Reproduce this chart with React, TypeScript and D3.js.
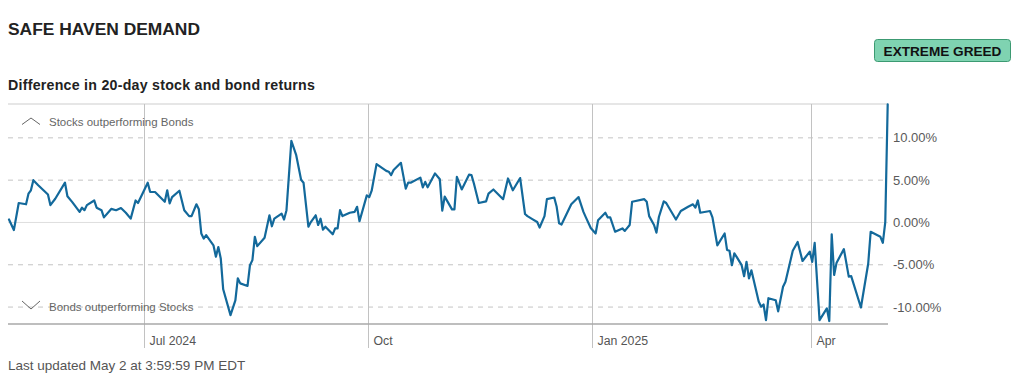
import React from "react";
import * as d3 from "d3";

const dates: string[] = [
  "2024-05-06","2024-05-08","2024-05-10","2024-05-13","2024-05-14","2024-05-15","2024-05-16","2024-05-18",
  "2024-05-22","2024-05-23","2024-05-25","2024-05-29","2024-05-30","2024-06-01","2024-06-04","2024-06-05",
  "2024-06-06","2024-06-07","2024-06-10","2024-06-11","2024-06-13","2024-06-14","2024-06-17","2024-06-19",
  "2024-06-21","2024-06-23","2024-06-25","2024-06-27","2024-06-28","2024-07-02","2024-07-03","2024-07-05",
  "2024-07-09","2024-07-10","2024-07-11","2024-07-12","2024-07-15","2024-07-17","2024-07-19","2024-07-20",
  "2024-07-22","2024-07-23","2024-07-24","2024-07-25","2024-07-26","2024-07-29","2024-07-30","2024-07-31",
  "2024-08-01","2024-08-02","2024-08-05","2024-08-07","2024-08-08","2024-08-09","2024-08-12","2024-08-13",
  "2024-08-14","2024-08-15","2024-08-16","2024-08-19","2024-08-21","2024-08-22","2024-08-23","2024-08-26",
  "2024-08-27","2024-08-28","2024-08-30","2024-09-01","2024-09-03","2024-09-04","2024-09-06","2024-09-07",
  "2024-09-09","2024-09-10","2024-09-11","2024-09-12","2024-09-13","2024-09-16","2024-09-17","2024-09-18",
  "2024-09-19","2024-09-20","2024-09-23","2024-09-25","2024-09-26","2024-09-27","2024-09-30","2024-10-01",
  "2024-10-02","2024-10-04","2024-10-08","2024-10-09","2024-10-10","2024-10-11","2024-10-14","2024-10-16",
  "2024-10-17","2024-10-18","2024-10-22","2024-10-23","2024-10-24","2024-10-25","2024-10-28","2024-10-30",
  "2024-10-31","2024-11-01","2024-11-04","2024-11-05","2024-11-06","2024-11-08","2024-11-11","2024-11-12",
  "2024-11-13","2024-11-15","2024-11-18","2024-11-19","2024-11-21","2024-11-25","2024-11-27","2024-11-29",
  "2024-12-02","2024-12-04","2024-12-05","2024-12-07","2024-12-09","2024-12-10","2024-12-12","2024-12-13",
  "2024-12-16","2024-12-17","2024-12-18","2024-12-19","2024-12-23","2024-12-26","2024-12-28","2024-12-29",
  "2024-12-31","2025-01-02","2025-01-03","2025-01-06","2025-01-07","2025-01-08","2025-01-10","2025-01-13",
  "2025-01-14","2025-01-16","2025-01-17","2025-01-22","2025-01-23","2025-01-24","2025-01-26","2025-01-27",
  "2025-01-28","2025-01-30","2025-01-31","2025-02-04","2025-02-06","2025-02-09","2025-02-11","2025-02-12",
  "2025-02-13","2025-02-14","2025-02-18","2025-02-19","2025-02-21","2025-02-24","2025-02-25","2025-02-26",
  "2025-02-27","2025-02-28","2025-03-01","2025-03-03","2025-03-04","2025-03-05","2025-03-06","2025-03-07",
  "2025-03-10","2025-03-11","2025-03-12","2025-03-13","2025-03-14","2025-03-17","2025-03-18","2025-03-20",
  "2025-03-21","2025-03-24","2025-03-26","2025-03-28","2025-03-31","2025-04-01","2025-04-02","2025-04-04",
  "2025-04-07","2025-04-08","2025-04-09","2025-04-10","2025-04-11","2025-04-14","2025-04-16","2025-04-17",
  "2025-04-21","2025-04-24","2025-04-25","2025-04-29","2025-04-30","2025-05-01","2025-05-02",
];

const values: number[] = [
  0.35,-0.9,2.3,2.15,3.4,3.8,5.0,4.4,
  3.3,2.05,2.8,4.7,3.1,2.4,1.25,1.75,
  1.45,2.05,2.6,1.75,1.45,0.6,1.6,1.45,
  1.7,1.15,0.45,2.6,2.3,4.7,3.6,3.6,
  2.45,3.8,2.25,3.0,3.75,1.45,0.75,0.75,
  2.15,1.55,-1.3,-1.9,-1.5,-2.7,-4.05,-2.9,
  -4.25,-7.9,-10.95,-9.2,-6.6,-7.2,-7.5,-5.05,
  -4.45,-1.7,-2.8,-1.8,0.85,-0.45,0.45,1.05,
  0.35,1.45,9.65,7.95,5.05,4.7,-0.5,0.05,
  0.85,-0.3,0.45,-0.85,-0.5,-1.4,-0.7,-0.7,
  1.45,0.75,1.15,1.25,1.85,0.15,3.2,3.0,
  3.75,6.9,6.1,6.0,5.6,6.2,7.05,4.0,
  4.7,4.7,5.3,4.15,4.8,4.15,5.8,5.1,
  1.4,3.05,1.55,1.55,5.4,3.9,5.65,5.6,
  4.6,2.3,2.5,3.4,3.9,2.75,5.2,3.8,
  5.25,1.0,0.75,0.4,0.05,-0.6,0.75,2.75,
  2.95,1.85,-0.1,-0.25,2.15,3.0,1.25,0.6,
  -0.65,-1.3,0.25,1.15,0.6,0.6,-1.1,-0.7,
  -1.0,-0.3,2.45,2.75,2.45,0.75,-0.3,-1.2,
  0.65,2.5,2.3,0.35,1.35,1.85,2.15,1.75,
  2.6,1.15,1.35,0.6,-2.7,-1.3,-3.25,-3.35,
  -5.05,-3.65,-4.1,-5.05,-6.35,-4.65,-6.6,-5.65,
  -9.35,-9.95,-9.7,-11.55,-8.95,-9.2,-10.5,-7.6,
  -7.0,-3.35,-2.3,-4.55,-3.45,-4.65,-2.4,-11.55,
  -10.15,-11.65,-1.4,-6.2,-4.75,-3.15,-6.4,-6.35,
  -10.05,-4.85,-1.1,-1.7,-2.4,0.05,13.97,
];

const xTickDates: string[] = ["2024-07-01", "2024-10-01", "2025-01-01", "2025-04-01"];
const xTickLabels: string[] = ["Jul 2024", "Oct", "Jan 2025", "Apr"];
const yTicks: number[] = [10, 5, 0, -5, -10];
const yDomain: [number, number] = [-12, 14];

const title = "SAFE HAVEN DEMAND";
const subtitle = "Difference in 20-day stock and bond returns";
const badgeText = "EXTREME GREED";
const upLabel = "Stocks outperforming Bonds";
const downLabel = "Bonds outperforming Stocks";
const footer = "Last updated May 2 at 3:59:59 PM EDT";

export default function App() {
  const W = 1024, H = 381;
  const left = 9, right = 887.7, top = 104, bottom = 324;
  const parse = d3.timeParse("%Y-%m-%d");
  const data = dates.map((d, i) => ({ date: parse(d) as Date, value: values[i] }));
  const x = d3.scaleTime()
    .domain(d3.extent(data, (d) => d.date) as [Date, Date])
    .range([left, right]);
  const y = d3.scaleLinear().domain(yDomain).range([bottom, top]);
  const line = d3.line<{ date: Date; value: number }>()
    .x((d) => x(d.date))
    .y((d) => y(d.value));
  const font = "'Liberation Sans', Arial, Helvetica, sans-serif";

  return (
    <svg width={W} height={H} style={{ position: "absolute", left: 0, top: 0, background: "#fff" }} fontFamily={font}>
      <text x={8} y={35} fontSize={17.4} fontWeight="bold" fill="#222">{title}</text>
      <g>
        <rect x={874.5} y={39.5} width={136} height={22} rx={3} fill="#7fd3b1" stroke="#3c9a72" strokeWidth={1} />
        <text x={942.5} y={55.5} fontSize={13.6} fontWeight="bold" fill="#111" textAnchor="middle">{badgeText}</text>
      </g>
      <text x={8} y={90} fontSize={14.2} letterSpacing={0.25} fontWeight="bold" fill="#222">{subtitle}</text>

      <line x1={8} x2={888} y1={top} y2={top} stroke="#e6e6e6" strokeWidth={2} />
      {yTicks.map((t) => (
        <g key={t}>
          <line x1={8} x2={888} y1={y(t)} y2={y(t)}
            stroke={t === 0 ? "#dedede" : "#c4c4c4"}
            strokeWidth={1}
            strokeDasharray={t === 0 ? undefined : "5,5"} />
          <text x={893} y={y(t)} dy="0.35em" fontSize={13} fill="#5a5a5a">{`${t.toFixed(2)}%`}</text>
        </g>
      ))}
      {xTickDates.map((s, i) => {
        const xx = Math.round(x(parse(s) as Date)) - 0.5;
        return (
          <g key={s}>
            <line x1={xx} x2={xx} y1={top} y2={348} stroke="#c2c2c2" strokeWidth={1} />
            <text x={xx + 5} y={345} fontSize={12.3} fill="#555">{xTickLabels[i]}</text>
          </g>
        );
      })}
      <line x1={8} x2={888} y1={bottom} y2={bottom} stroke="#a8a8a8" strokeWidth={1.5} />

      <path d="M22,124.5 L31,118 L40,124.5" fill="none" stroke="#666" strokeWidth={1} />
      <text x={49} y={121.5} dy="0.35em" fontSize={11.5} fill="#666">{upLabel}</text>
      <path d="M22,301 L31,309 L40,301" fill="none" stroke="#666" strokeWidth={1} />
      <text x={49} y={307} dy="0.35em" fontSize={11.5} fill="#666">{downLabel}</text>

      <path d={line(data) || ""} fill="none" stroke="#13699b" strokeWidth={2.2} strokeLinejoin="round" strokeLinecap="round" />

      <text x={8} y={370} fontSize={13.5} fill="#555">{footer}</text>
    </svg>
  );
}
